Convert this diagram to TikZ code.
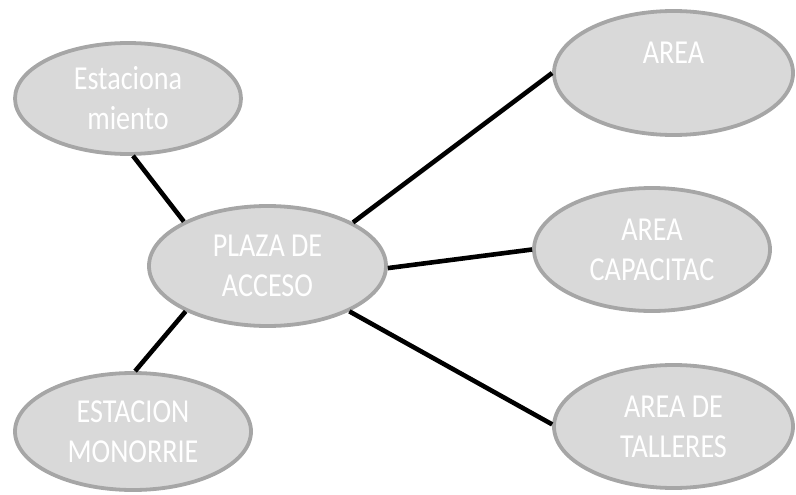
\documentclass[tikz,border=0pt]{standalone}
\usepackage{fontspec}
\setmainfont[FakeStretch=0.84]{Carlito}
\usepackage{tikz}
\usetikzlibrary{shapes, positioning}
\definecolor{bubblefill}{HTML}{D9D9D9}
\definecolor{bubbleline}{HTML}{A6A6A6}

\begin{document}
\begin{tikzpicture}[x=1pt, y=-1pt,
    bubble/.style={ellipse, draw=bubbleline, fill=bubblefill, line width=3.8pt,
        inner sep=0pt, align=center, text=white,
        font=\fontsize{33.5}{40}\selectfont,
        minimum width=237pt, minimum height=122pt},
    link/.style={line width=4.6pt, black}]
    \useasboundingbox (0,0) rectangle (796,495);

    % Central node
    \node[bubble, minimum width=237pt, minimum height=120pt] (plaza) at (267.5,266) {PLAZA DE\\ACCESO};

    % Left side
    \node[bubble, minimum width=226pt, minimum height=111pt] (parking) at (128,98.5) {Estaciona\\miento};
    \node[bubble, minimum width=236pt, minimum height=117pt] (monorail) at (133,431.5) {ESTACION\\MONORRIE};

    % Right side
    \node[bubble, minimum width=239pt, minimum height=124pt] (area) at (673.5,73) {AREA\\\vphantom{A}};
    \node[bubble, minimum width=236pt, minimum height=123pt] (training) at (652,249.5) {AREA\\CAPACITAC};
    \node[bubble, minimum width=239pt, minimum height=123pt] (workshops) at (673.5,426.5) {AREA DE\\TALLERES};

    % Connectors
    \draw[link] (parking.-85) -- (plaza.152);
    \draw[link] (plaza.27) -- (area.180);
    \draw[link] (plaza.-1) -- (training.180);
    \draw[link] (plaza.-29) -- (workshops.179);
    \draw[link] (plaza.-151) -- (monorail.88);
\end{tikzpicture}
\end{document}
